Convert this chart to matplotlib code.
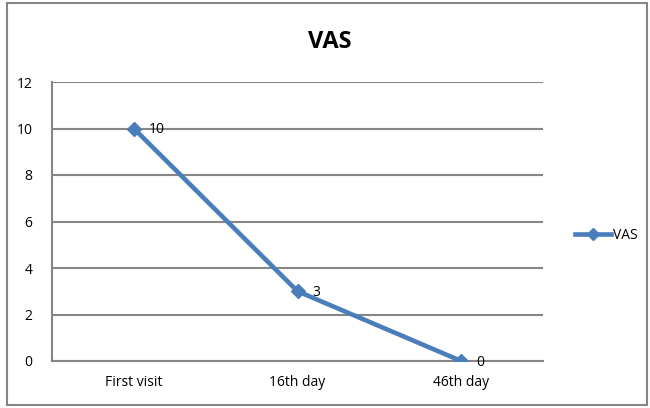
import matplotlib.pyplot as plt
from matplotlib.patches import Rectangle

categories = ["First visit", "16th day", "46th day"]
vas = [10, 3, 0]
y_ticks = [0, 2, 4, 6, 8, 10, 12]

plt.rcParams['font.family'] = ['Open Sans', 'DejaVu Sans']

fig = plt.figure(figsize=(6.5, 4.08), dpi=100)
ax = fig.add_axes([52 / 650, 1 - 361 / 408, 491 / 650, 279 / 408])

# outer chart border
fig.patches.append(Rectangle((7 / 650, 3 / 408), 640 / 650, 402 / 408,
                             transform=fig.transFigure, fill=False,
                             edgecolor="#868686", linewidth=1.5))

x = list(range(len(categories)))
ax.plot(x, vas, color="#4A7EBB", linewidth=3.3, marker="D", markersize=7.5,
        label="VAS", zorder=3)
for xi, v in zip(x, vas):
    ax.annotate(str(v), (xi, v), xytext=(11, -1), textcoords="offset points",
                va="center", ha="left", fontsize=10)

ax.set_xlim(-0.5, len(categories) - 0.5)
ax.set_ylim(0, 12)
ax.set_yticks(y_ticks)
ax.set_xticks(x)
ax.set_xticklabels(categories)
ax.tick_params(length=0, labelsize=10, pad=10)
ax.tick_params(axis="y", pad=14)
ax.grid(axis="y", color="#868686", linewidth=1.5)
ax.set_axisbelow(True)
for s in ["top", "right"]:
    ax.spines[s].set_visible(False)
for s in ["left", "bottom"]:
    ax.spines[s].set_color("#868686")
    ax.spines[s].set_linewidth(1.5)

fig.text(330 / 650, 1 - 42 / 408, "VAS", ha="center", va="center",
         fontsize=17, fontweight="bold")

ax.legend(loc="center left", bbox_to_anchor=(1.04, 0.45), frameon=False,
          fontsize=10, handlelength=2.6, handletextpad=0.1, markerscale=0.8)

fig.savefig("out.png", dpi=100)
